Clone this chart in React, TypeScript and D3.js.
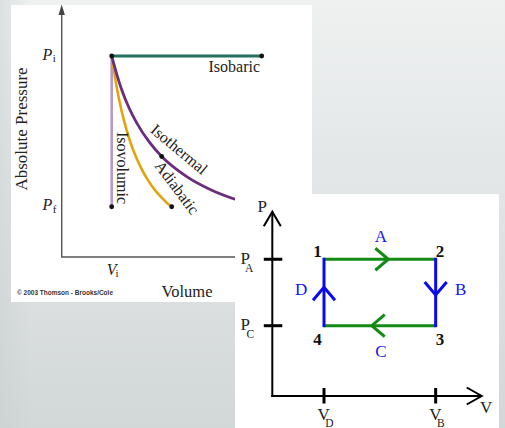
import React from 'react';
import * as d3 from 'd3';

const W = 505;
const H = 428;

// ---------- Left chart (P–V processes) ----------
const isobaricV = [1, 4];
const isobaricP = [4, 4];
const isovolumicV = [1, 1];
const isovolumicP = [4, 1];
const isothermalV = [1, 1.1, 1.2, 1.35, 1.5, 1.75, 2, 2.5, 3, 3.5, 4, 4.6];
const isothermalP = [4, 3.64, 3.33, 2.96, 2.67, 2.29, 2, 1.6, 1.33, 1.14, 1, 0.87];
const adiabaticV = [1, 1.1, 1.2, 1.3, 1.4, 1.5, 1.6, 1.7, 1.8, 1.9, 2.0, 2.1, 2.2];
const adiabaticP = [4, 3.38, 2.9, 2.52, 2.21, 1.96, 1.75, 1.57, 1.42, 1.29, 1.18, 1.08, 1.0];
const dotV = [1, 4, 1, 2.2, 2];
const dotP = [4, 4, 1, 1, 2];
const leftTickV = [1];
const leftTickVLabels = ['i'];
const leftTickP = [4, 1];
const leftTickPLabels = ['i', 'f'];

// ---------- Right chart (cycle) ----------
const cornerNames = ['1', '2', '3', '4'];
const cornerV = [1, 3.16, 3.16, 1];
const cornerP = [1.945, 1.945, 1, 1];
const processNames = ['A', 'B', 'C', 'D'];
const processColors = ['#138a13', '#0a0af0', '#138a13', '#0a0af0'];
// arrow tip position along each process (V for horizontal, P for vertical)
const processTips = [2.244, 1.437, 1.923, 1.546];
const rightTickV = [1, 3.16];
const rightTickVLabels = ['D', 'B'];
const rightTickP = [1.945, 1];
const rightTickPLabels = ['A', 'C'];

export default function App() {
  const xL = d3.scaleLinear().domain([0, 1]).range([61.7, 111.7]);
  const yL = d3.scaleLinear().domain([0, 1]).range([257, 206.75]);
  const xR = d3.scaleLinear().domain([0, 1]).range([272.3, 324]);
  const yR = d3.scaleLinear().domain([0, 1]).range([396, 325.7]);

  const lineL = (vs: number[], ps: number[], curve = d3.curveLinear) =>
    d3
      .line<number>()
      .x((_, i) => xL(vs[i]))
      .y((_, i) => yL(ps[i]))
      .curve(curve)(vs) as string;

  const serif = '"Liberation Serif", "Times New Roman", serif';
  const sans = '"Liberation Sans", Arial, sans-serif';

  const segs = [0, 1, 2, 3].map((i) => {
    const j = (i + 1) % 4;
    return {
      x1: xR(cornerV[i]),
      y1: yR(cornerP[i]),
      x2: xR(cornerV[j]),
      y2: yR(cornerP[j]),
      color: processColors[i],
      name: processNames[i],
      horizontal: cornerP[i] === cornerP[j],
      dir: cornerP[i] === cornerP[j] ? Math.sign(cornerV[j] - cornerV[i]) : Math.sign(cornerP[j] - cornerP[i]),
      tip: processTips[i],
    };
  });

  const chevron = (s: (typeof segs)[number]) => {
    const back = 13;
    const side = 11;
    if (s.horizontal) {
      const tx = xR(s.tip);
      const ty = s.y1;
      const bx = tx - s.dir * back;
      return `M${bx},${ty - side}L${tx},${ty}L${bx},${ty + side}`;
    }
    const tx = s.x1;
    const ty = yR(s.tip);
    const by = ty + s.dir * back;
    return `M${tx - side},${by}L${tx},${ty}L${tx + side},${by}`;
  };

  const labelPos: Record<string, [number, number, string]> = {
    A: [381, 242, 'middle'],
    B: [455, 295, 'start'],
    C: [381, 357, 'middle'],
    D: [295, 295, 'start'],
  };
  const cornerLabelPos = [
    [317.5, 257],
    [440, 257],
    [440, 345],
    [317.5, 345],
  ];

  const xAxisEnd = xR(4.05);
  const yAxisEnd = yR(2.62);

  return (
    <svg
      width={W}
      height={H}
      viewBox={`0 0 ${W} ${H}`}
      style={{ position: 'absolute', left: 0, top: 0, display: 'block' }}
    >
      <defs>
        <linearGradient id="bg" x1="0" y1="0" x2="0" y2="1">
          <stop offset="0" stopColor="#eff1f1" />
          <stop offset="1" stopColor="#d2d7d8" />
        </linearGradient>
        <linearGradient id="bgside" x1="0" y1="0" x2="1" y2="0">
          <stop offset="0" stopColor="#c9cfd0" stopOpacity="0.5" />
          <stop offset="0.06" stopColor="#c9cfd0" stopOpacity="0" />
        </linearGradient>
      </defs>
      <rect x={0} y={0} width={W} height={H} fill="url(#bg)" />
      <rect x={0} y={0} width={W} height={H} fill="url(#bgside)" />

      {/* ---------- Left panel ---------- */}
      <rect x={11} y={5} width={301} height={297} fill="#ffffff" />
      <line x1={xL(0)} y1={yL(0)} x2={xL(0)} y2={14} stroke="#555" strokeWidth={1.4} />
      <path d={`M${xL(0)},4.5L${xL(0) - 3.2},15L${xL(0) + 3.2},15Z`} fill="#444" />
      <line x1={xL(0) - 0.7} y1={yL(0)} x2={xL(4.9)} y2={yL(0)} stroke="#555" strokeWidth={1.4} />

      <path d={lineL(isovolumicV, isovolumicP)} fill="none" stroke="#b89ac6" strokeWidth={2.6} />
      <path d={lineL(adiabaticV, adiabaticP, d3.curveMonotoneX)} fill="none" stroke="#e1a40c" strokeWidth={2.6} />
      <path d={lineL(isothermalV, isothermalP, d3.curveMonotoneX)} fill="none" stroke="#6a2c7c" strokeWidth={2.8} />
      <path d={lineL(isobaricV, isobaricP)} fill="none" stroke="#22705f" strokeWidth={2.8} />
      {dotV.map((v, i) => (
        <circle key={i} cx={xL(v)} cy={yL(dotP[i])} r={2.4} fill="#111" />
      ))}

      {leftTickP.map((p, i) => (
        <text key={'p' + i} x={42.5} y={yL(p) + 3.5} fontFamily={serif} fill="#222">
          <tspan fontSize={16} fontStyle="italic">P</tspan>
          <tspan dx={0.5} dy={2.5} fontSize={11}>{leftTickPLabels[i]}</tspan>
        </text>
      ))}
      {leftTickV.map((v, i) => (
        <text key={'v' + i} x={xL(v) - 5} y={275} fontFamily={serif} fill="#222">
          <tspan fontSize={16} fontStyle="italic">V</tspan>
          <tspan dx={-1} dy={2} fontSize={11}>{leftTickVLabels[i]}</tspan>
        </text>
      ))}

      <text
        transform="translate(27,129) rotate(-90)"
        textAnchor="middle"
        fontFamily={serif}
        fontSize={17}
        fill="#222"
      >
        Absolute Pressure
      </text>
      <text x={187} y={297} textAnchor="middle" fontFamily={serif} fontSize={16.5} fill="#222">
        Volume
      </text>
      <text x={17} y={295} fontFamily={sans} fontSize={7.2} fontWeight="bold" fill="#333" textLength={96} lengthAdjust="spacingAndGlyphs">
        © 2003 Thomson - Brooks/Cole
      </text>

      <text x={260} y={72} textAnchor="end" fontFamily={serif} fontSize={16} fill="#222">
        Isobaric
      </text>
      <text transform="translate(117,132) rotate(90)" fontFamily={serif} fontSize={16} fill="#222">
        Isovolumic
      </text>
      <text transform="translate(149.5,131.5) rotate(40)" fontFamily={serif} fontSize={16} fill="#222">
        Isothermal
      </text>
      <text transform="translate(154,166) rotate(53)" fontFamily={serif} fontSize={16} fill="#222">
        Adiabatic
      </text>

      {/* ---------- Right panel ---------- */}
      <rect x={235} y={194} width={264} height={234} fill="#ffffff" />

      <line x1={xR(0)} y1={yR(0) + 1} x2={xR(0)} y2={yAxisEnd} stroke="#000" strokeWidth={2} />
      <line x1={xR(0) - 1} y1={yR(0)} x2={xAxisEnd} y2={yR(0)} stroke="#000" strokeWidth={2} />
      <path
        d={`M${xR(0) - 8.5},${yAxisEnd + 14.5}L${xR(0)},${yAxisEnd}L${xR(0) + 8.5},${yAxisEnd + 14.5}`}
        fill="none"
        stroke="#000"
        strokeWidth={2}
      />
      <path
        d={`M${xAxisEnd - 15},${yR(0) - 8.5}L${xAxisEnd},${yR(0)}L${xAxisEnd - 15},${yR(0) + 8.5}`}
        fill="none"
        stroke="#000"
        strokeWidth={2}
      />

      {rightTickP.map((p, i) => (
        <g key={'rp' + i}>
          <line x1={xR(0) - 8.5} x2={xR(0) + 10} y1={yR(p)} y2={yR(p)} stroke="#000" strokeWidth={3} />
          <text x={240.5} y={yR(p) + 4.5} fontFamily={serif} fill="#222">
            <tspan fontSize={17}>P</tspan>
            <tspan dx={-5 + (i === 1 ? 1.5 : 0)} dy={8} fontSize={11.5}>{rightTickPLabels[i]}</tspan>
          </text>
        </g>
      ))}
      {rightTickV.map((v, i) => (
        <g key={'rv' + i}>
          <line x1={xR(v)} x2={xR(v)} y1={yR(0) - 8} y2={yR(0) + 7.5} stroke="#000" strokeWidth={3} />
          <text x={xR(v) - 6.5} y={420} fontFamily={serif} fill="#222">
            <tspan fontSize={17}>V</tspan>
            <tspan dx={-4.5} dy={7} fontSize={11.5}>{rightTickVLabels[i]}</tspan>
          </text>
        </g>
      ))}
      <text x={257.5} y={212} fontFamily={serif} fontSize={17} fill="#222">P</text>
      <text x={480} y={413} fontFamily={serif} fontSize={17} fill="#222">V</text>

      {segs
        .filter((s) => s.horizontal)
        .map((s) => (
          <g key={s.name}>
            <line x1={s.x1} y1={s.y1} x2={s.x2} y2={s.y2} stroke={s.color} strokeWidth={3} />
            <path d={chevron(s)} fill="none" stroke={s.color} strokeWidth={3} />
          </g>
        ))}
      {segs
        .filter((s) => !s.horizontal)
        .map((s) => (
          <g key={s.name}>
            <line x1={s.x1} y1={s.y1} x2={s.x2} y2={s.y2} stroke={s.color} strokeWidth={3} strokeLinecap="square" />
            <path d={chevron(s)} fill="none" stroke={s.color} strokeWidth={3} />
          </g>
        ))}
      {processNames.map((n) => (
        <text
          key={'pl' + n}
          x={labelPos[n][0]}
          y={labelPos[n][1]}
          textAnchor={labelPos[n][2] as any}
          fontFamily={serif}
          fontSize={17}
          fill="#1414f0"
        >
          {n}
        </text>
      ))}
      {cornerNames.map((n, i) => (
        <text
          key={'cn' + n}
          x={cornerLabelPos[i][0]}
          y={cornerLabelPos[i][1]}
          textAnchor="middle"
          fontFamily={serif}
          fontSize={17}
          fontWeight="bold"
          fill="#111"
        >
          {n}
        </text>
      ))}
    </svg>
  );
}
